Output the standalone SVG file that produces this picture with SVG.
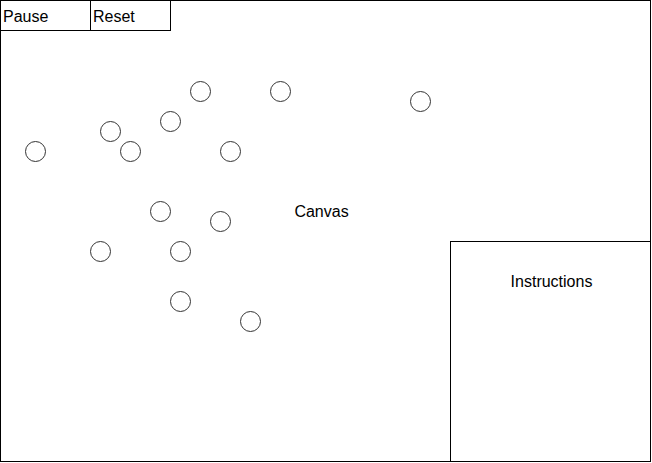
<svg xmlns="http://www.w3.org/2000/svg" width="652" height="463" viewBox="0 0 652 463">
<style>
.box{fill:#fff;stroke:#000;stroke-width:1}
.dot{fill:none;stroke:#333;stroke-width:1}
text{font-family:"Liberation Sans",Arial,sans-serif;font-size:16px;fill:#000}
</style>
<rect width="652" height="463" fill="#fff"/>
<g id="canvas">
<rect class="box" x="0.5" y="0.5" width="650" height="461"/>
<text x="321.5" y="217" text-anchor="middle">Canvas</text>
</g>
<g id="pause">
<rect class="box" x="0.5" y="0.5" width="90" height="30"/>
<text x="3" y="22">Pause</text>
</g>
<g id="reset">
<rect class="box" x="90.5" y="0.5" width="80" height="30"/>
<text x="93" y="22">Reset</text>
</g>
<g id="instructions">
<rect class="box" x="450.5" y="241.5" width="200" height="220"/>
<text x="551.5" y="287" text-anchor="middle">Instructions</text>
</g>
<g id="balls">
<circle class="dot" cx="200.5" cy="91.5" r="10"/>
<circle class="dot" cx="280.5" cy="91.5" r="10"/>
<circle class="dot" cx="420.5" cy="101.5" r="10"/>
<circle class="dot" cx="110.5" cy="131.5" r="10"/>
<circle class="dot" cx="170.5" cy="121.5" r="10"/>
<circle class="dot" cx="35.5" cy="151.5" r="10"/>
<circle class="dot" cx="130.5" cy="151.5" r="10"/>
<circle class="dot" cx="230.5" cy="151.5" r="10"/>
<circle class="dot" cx="160.5" cy="211.5" r="10"/>
<circle class="dot" cx="220.5" cy="221.5" r="10"/>
<circle class="dot" cx="100.5" cy="251.5" r="10"/>
<circle class="dot" cx="180.5" cy="251.5" r="10"/>
<circle class="dot" cx="180.5" cy="301.5" r="10"/>
<circle class="dot" cx="250.5" cy="321.5" r="10"/>
</g>
</svg>
